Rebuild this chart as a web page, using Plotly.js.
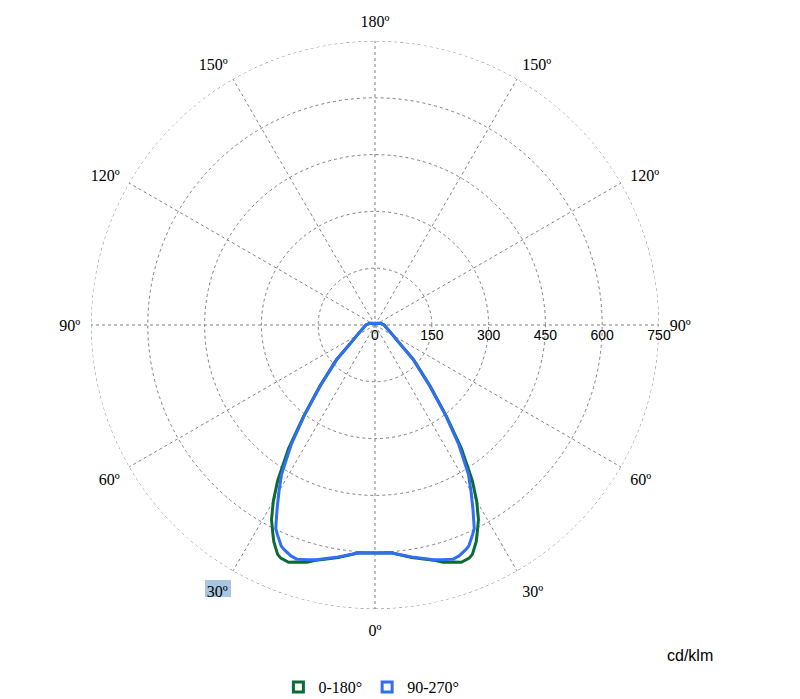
<!DOCTYPE html>
<html>
<head>
<meta charset="utf-8">
<script src="https://cdn.plot.ly/plotly-3.0.1.min.js"></script>
<style>html,body{margin:0;padding:0;background:#fff;}#chart{width:800px;height:699px;}</style>
</head>
<body>
<div id="chart"></div>
<script>
// Angle from nadir (degrees), one half of the symmetric curve
const angles = [0, 4, 9, 14, 16, 18.5, 20, 22, 23, 25, 26, 28, 30, 32, 35, 38, 42, 48, 55, 60, 66, 80, 90, 105, 120, 135, 150, 165, 180];
// Intensity in cd/klm, plane 0-180
const plane0_180 = [602, 603, 622, 640, 652, 660, 667, 664, 658, 632, 615, 582, 537, 485, 398, 307, 218, 137, 72, 55, 43, 29, 24, 16, 9, 6, 5, 4, 4];
// Intensity in cd/klm, plane 90-270
const plane90_270 = [602, 603, 620, 639, 645, 652, 649, 640, 634, 610, 598, 551, 507, 466, 386, 303, 215, 135, 72, 55, 43, 29, 24, 16, 9, 6, 5, 4, 4];
const seriesNames = ['0-180°', '90-270°'];
const seriesColors = ['#0b6b34', '#2f6ff0'];
const radialTicks = [0, 150, 300, 450, 600, 750];
const angularTicks = [0, 30, 60, 90, 120, 150, 180, 210, 240, 270, 300, 330];
const angularLabels = ['0º', '30º', '60º', '90º', '120º', '150º', '180º', '150º', '120º', '90º', '60º', '30º'];
const unitLabel = 'cd/klm';

function fullCurve(vals) {
  const th = [], r = [];
  for (let i = 0; i < angles.length; i++) { th.push(angles[i]); r.push(vals[i]); }
  for (let i = angles.length - 2; i >= 0; i--) { th.push(360 - angles[i]); r.push(vals[i]); }
  return {th, r};
}
const c1 = fullCurve(plane0_180), c2 = fullCurve(plane90_270);

// outer frame circle at the last radial tick (dotted like the grid)
const rMax = radialTicks[radialTicks.length - 1];
const frameTheta = [], frameR = [];
for (let a = 0; a <= 360; a += 1) { frameTheta.push(a); frameR.push(rMax); }

const grid = '#808080';
const traces = [
  {type:'scatterpolar', mode:'lines', theta:frameTheta, r:frameR, line:{color:grid, width:1, dash:'3px,3px'}, showlegend:false, hoverinfo:'skip'},
  {type:'scatterpolar', mode:'lines', theta:c1.th, r:c1.r, line:{color:seriesColors[0], width:3}, showlegend:false, hoverinfo:'skip'},
  {type:'scatterpolar', mode:'lines', theta:c2.th, r:c2.r, line:{color:seriesColors[1], width:3}, showlegend:false, hoverinfo:'skip'},
  {type:'scatterpolar', mode:'markers', theta:[null], r:[null], name:seriesNames[0], marker:{symbol:'square-open', size:10, color:seriesColors[0], line:{width:3}}},
  {type:'scatterpolar', mode:'markers', theta:[null], r:[null], name:seriesNames[1], marker:{symbol:'square-open', size:10, color:seriesColors[1], line:{width:3}}}
];

const H = 699;
const layout = {
  width:800, height:H,
  margin:{l:0, r:0, t:0, b:0, autoexpand:false},
  paper_bgcolor:'#fff',
  showlegend:true,
  legend:{orientation:'h', x:0.348, xanchor:'left', y:(H-687)/H, yanchor:'middle', font:{family:'Liberation Serif', size:16, color:'#000'}, itemwidth:30, tracegroupgap:0},
  polar:{
    domain:{x:[0.11375, 0.82375], y:[(H-609)/H, (H-41)/H]},
    bgcolor:'rgba(0,0,0,0)',
    radialaxis:{range:[0, 750], tickvals:radialTicks, angle:0, showline:false, ticks:'', gridcolor:grid, griddash:'dot', gridwidth:1, tickfont:{family:'Liberation Sans', size:14, color:'#000'}},
    angularaxis:{rotation:270, direction:'counterclockwise', tickmode:'array', tickvals:angularTicks, ticktext:angularLabels, ticks:'outside', ticklen:7, tickcolor:'rgba(0,0,0,0)', showline:false, gridcolor:grid, griddash:'dot', gridwidth:1, tickfont:{family:'Liberation Serif', size:16, color:'#000'}}
  },
  shapes:[{type:'rect', xref:'paper', yref:'paper', x0:205/800, x1:231/800, y0:(H-597)/H, y1:(H-580)/H, fillcolor:'#a8c6df', line:{width:0}, layer:'below'}],
  annotations:[{text:unitLabel, xref:'paper', yref:'paper', x:690/800, y:(H-655)/H, xanchor:'center', yanchor:'middle', showarrow:false, font:{family:'Liberation Sans', size:16, color:'#000'}}]
};
Plotly.newPlot('chart', traces, layout, {displayModeBar:false, staticPlot:true});
</script>
</body>
</html>
